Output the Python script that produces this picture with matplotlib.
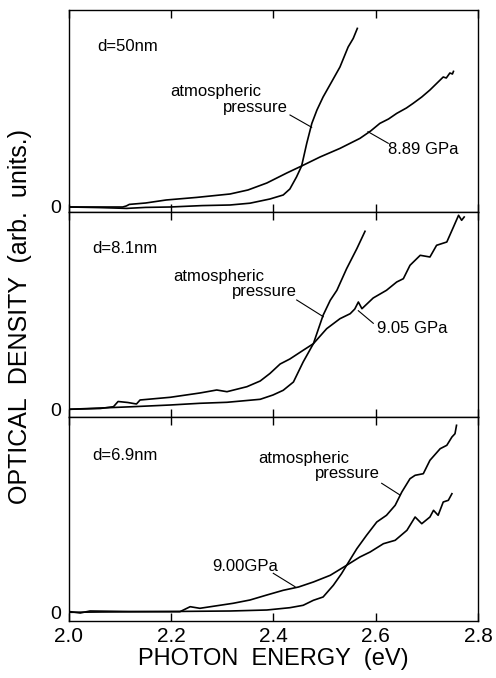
import matplotlib
matplotlib.use("Agg")
import matplotlib.pyplot as plt

plt.rcParams['font.family'] = ['Liberation Sans', 'DejaVu Sans']

# ---- spectra: photon energy (eV) and optical density (arb. units) ----
# d = 50 nm
e50_atm = [2.0, 2.06, 2.113, 2.15, 2.198, 2.26, 2.315, 2.354, 2.393, 2.419, 2.432,
           2.445, 2.455, 2.465, 2.475, 2.485, 2.497, 2.514, 2.530, 2.546, 2.556, 2.564]
od50_atm = [0.0, -0.03, -0.07, -0.02, 0.0, 0.07, 0.10, 0.19, 0.40, 0.60, 0.90,
            1.50, 2.05, 3.18, 4.18, 4.85, 5.50, 6.27, 7.00, 8.00, 8.43, 8.93]
e50_hp = [2.0, 2.06, 2.105, 2.112, 2.118, 2.15, 2.19, 2.25, 2.315, 2.35, 2.387,
          2.426, 2.455, 2.491, 2.53, 2.569, 2.59, 2.608, 2.625, 2.641, 2.66, 2.673,
          2.69, 2.706, 2.72, 2.732, 2.738, 2.745, 2.75, 2.752]
od50_hp = [0.0, 0.0, 0.0, 0.05, 0.13, 0.20, 0.35, 0.48, 0.65, 0.85, 1.20,
           1.70, 2.05, 2.50, 2.93, 3.43, 3.80, 4.18, 4.40, 4.68, 4.95, 5.18,
           5.50, 5.85, 6.20, 6.50, 6.45, 6.70, 6.65, 6.78]

# d = 8.1 nm
e81_atm = [2.0, 2.125, 2.198, 2.256, 2.309, 2.374, 2.399, 2.419, 2.439, 2.458,
           2.478, 2.497, 2.511, 2.524, 2.543, 2.563, 2.579]
od81_atm = [0.01, 0.14, 0.225, 0.31, 0.36, 0.51, 0.725, 0.96, 1.375, 2.375,
            3.29, 4.71, 5.46, 5.96, 7.04, 8.04, 8.91]
e81_hp = [2.0, 2.061, 2.087, 2.096, 2.115, 2.132, 2.139, 2.198, 2.256, 2.289,
          2.309, 2.348, 2.374, 2.393, 2.413, 2.432, 2.458, 2.478, 2.504, 2.530,
          2.550, 2.559, 2.566, 2.573, 2.595, 2.621, 2.641, 2.654, 2.667, 2.687,
          2.706, 2.719, 2.739, 2.752, 2.762, 2.768, 2.773]
od81_hp = [0.01, 0.05, 0.14, 0.40, 0.35, 0.275, 0.475, 0.61, 0.825, 0.975,
           0.89, 1.14, 1.425, 1.80, 2.275, 2.525, 2.96, 3.29, 4.04, 4.54,
           4.79, 5.025, 5.375, 5.04, 5.575, 5.96, 6.375, 6.54, 7.21, 7.71,
           7.625, 8.21, 8.375, 9.125, 9.71, 9.46, 9.625]

# d = 6.9 nm
e69_atm = [2.0, 2.061, 2.198, 2.315, 2.387, 2.432, 2.458, 2.478, 2.497, 2.517,
           2.533, 2.543, 2.563, 2.582, 2.602, 2.621, 2.638, 2.651, 2.667, 2.677,
           2.693, 2.706, 2.726, 2.739, 2.749, 2.755, 2.758]
od69_atm = [-0.015, 0.0, 0.025, 0.05, 0.10, 0.215, 0.335, 0.585, 0.75, 1.335,
            1.915, 2.335, 3.165, 3.835, 4.50, 4.835, 5.335, 6.00, 6.665, 6.835,
            6.915, 7.585, 8.165, 8.335, 8.75, 8.915, 9.335]
e69_hp = [2.0, 2.022, 2.041, 2.119, 2.217, 2.237, 2.256, 2.321, 2.354, 2.387,
          2.419, 2.449, 2.478, 2.511, 2.543, 2.569, 2.589, 2.615, 2.638, 2.661,
          2.677, 2.690, 2.706, 2.713, 2.722, 2.732, 2.742, 2.749]
od69_hp = [0.025, -0.05, 0.05, 0.025, 0.015, 0.265, 0.185, 0.435, 0.60, 0.85,
           1.085, 1.25, 1.50, 1.835, 2.335, 2.75, 3.0, 3.415, 3.585, 4.085,
           4.75, 4.415, 4.75, 5.085, 4.835, 5.50, 5.585, 5.915]

x_ticks = [2.0, 2.2, 2.4, 2.6, 2.8]
x_tick_labels = ["2.0", "2.2", "2.4", "2.6", "2.8"]

panels = [
    dict(rect=[0.1391, 0.68732, 0.8246, 0.29794], ylim=(-0.25, 9.85),
         curves=[(e50_atm, od50_atm), (e50_hp, od50_hp)],
         title=("d=50nm", 2.0548, 8.0),
         atm_text=((2.2875, 5.77), (2.4284, 4.985)),
         atm_leader=((2.4323, 4.6), (2.4747, 3.985)),
         hp_text=("8.89 GPa", 2.624, 2.85, "left"),
         hp_leader=((2.5848, 3.765), (2.6245, 3.185))),
    dict(rect=[0.1391, 0.38496, 0.8246, 0.30236], ylim=(-0.375, 9.875),
         curves=[(e81_atm, od81_atm), (e81_hp, od81_hp)],
         title=("d=8.1nm", 2.0464, 8.06),
         atm_text=((2.2934, 6.64), (2.446, 5.89)),
         atm_leader=((2.4454, 5.475), (2.4974, 4.64)),
         hp_text=("9.05 GPa", 2.6019, 4.06, "left"),
         hp_leader=((2.5659, 4.94), (2.5952, 4.31))),
    dict(rect=[0.1391, 0.08407, 0.8246, 0.30088], ylim=(-0.45, 9.75),
         curves=[(e69_atm, od69_atm), (e69_hp, od69_hp)],
         title=("d=6.9nm", 2.0464, 7.85),
         atm_text=((2.4583, 7.685), (2.6083, 6.935)),
         atm_leader=((2.6116, 6.435), (2.6474, 5.85)),
         hp_text=("9.00GPa", 2.4088, 2.265, "right"),
         hp_leader=((2.3996, 1.935), (2.4421, 1.265))),
]

fig = plt.figure(figsize=(4.96, 6.78), dpi=100)
label_fs = 12

for i, p in enumerate(panels):
    ax = fig.add_axes(p["rect"])
    for ex, od in p["curves"]:
        ax.plot(ex, od, color="black", lw=1.2)
    ax.set_xlim(2.0, 2.8)
    ax.set_ylim(*p["ylim"])
    ax.set_xticks(x_ticks)
    ax.set_yticks([0])
    ax.set_yticklabels(["0"], fontsize=14)
    ax.tick_params(axis="x", direction="in", top=True, bottom=True,
                   length=6, width=1.0)
    ax.tick_params(axis="y", length=0, pad=6)
    if i == len(panels) - 1:
        ax.set_xticklabels(x_tick_labels, fontsize=15)
        ax.tick_params(axis="x", pad=4)
        ax.set_xlabel("PHOTON  ENERGY  (eV)", fontsize=17, labelpad=2)
    else:
        ax.set_xticklabels([])
    for s in ax.spines.values():
        s.set_linewidth(1.0)

    name, tx, ty = p["title"]
    ax.text(tx, ty, name, fontsize=label_fs, ha="left", va="center")
    (ax1, ay1), (ax2, ay2) = p["atm_text"]
    ax.text(ax1, ay1, "atmospheric", fontsize=label_fs, ha="center", va="center")
    ax.text(ax2, ay2, "pressure", fontsize=label_fs, ha="right", va="center")
    (lx1, ly1), (lx2, ly2) = p["atm_leader"]
    ax.plot([lx1, lx2], [ly1, ly2], color="black", lw=0.8)
    hname, hx, hy, ha = p["hp_text"]
    ax.text(hx, hy, hname, fontsize=label_fs, ha=ha, va="center")
    (lx1, ly1), (lx2, ly2) = p["hp_leader"]
    ax.plot([lx1, lx2], [ly1, ly2], color="black", lw=0.8)

fig.text(0.040, 0.533, "OPTICAL  DENSITY  (arb.  units.)", rotation=90,
         fontsize=18, ha="center", va="center")

fig.savefig("out.png", dpi=100)
